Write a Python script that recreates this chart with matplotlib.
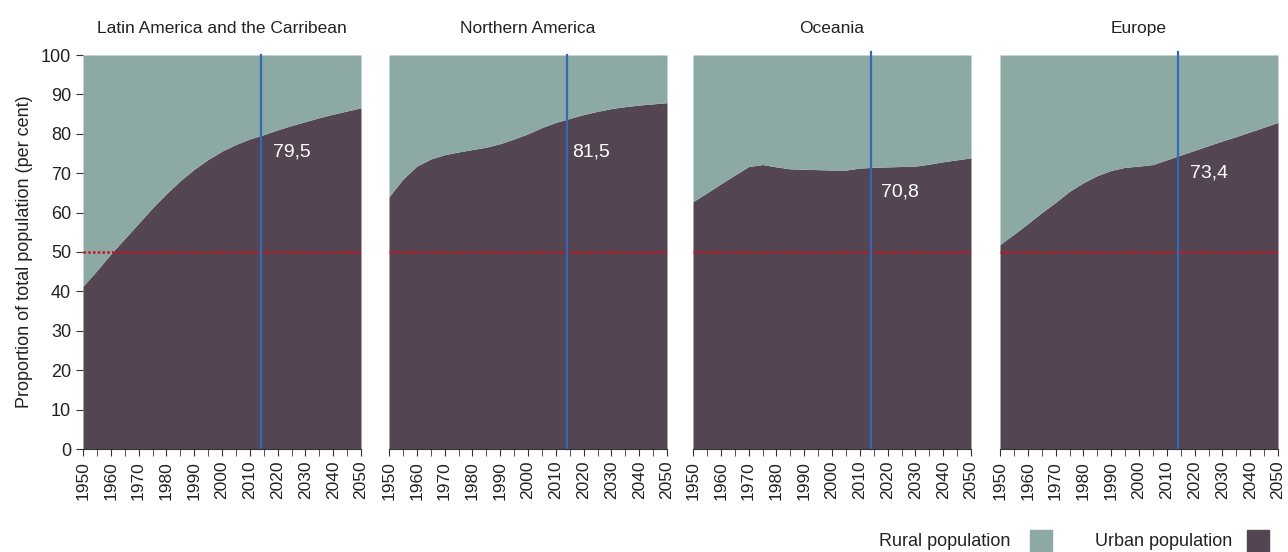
import matplotlib.pyplot as plt
from matplotlib.patches import Rectangle

plt.rcParams['font.family'] = ['Liberation Sans', 'DejaVu Sans']

anos = [1950, 1955, 1960, 1965, 1970, 1975, 1980, 1985, 1990, 1995, 2000,
        2005, 2010, 2015, 2020, 2025, 2030, 2035, 2040, 2045, 2050]

regioes = ['Latin America and the Carribean', 'Northern America', 'Oceania', 'Europe']

urbana_latam = [41.3, 45.3, 49.5, 53.4, 57.3, 61.2, 64.8, 68.1, 71.0, 73.5, 75.6,
                77.3, 78.7, 79.8, 81.0, 82.1, 83.1, 84.1, 85.0, 85.8, 86.6]
urbana_nam = [64.0, 68.5, 71.8, 73.6, 74.7, 75.4, 76.0, 76.6, 77.5, 78.7, 80.0,
              81.6, 82.9, 83.9, 84.9, 85.7, 86.4, 86.9, 87.3, 87.6, 87.9]
urbana_oce = [62.8, 65.0, 67.3, 69.5, 71.7, 72.2, 71.6, 71.1, 71.0, 70.9, 70.8,
              70.8, 71.3, 71.5, 71.6, 71.7, 71.8, 72.3, 72.9, 73.4, 73.9]
urbana_eur = [51.9, 54.5, 57.2, 60.0, 62.6, 65.4, 67.6, 69.4, 70.7, 71.5, 71.8,
              72.2, 73.4, 74.6, 75.8, 77.0, 78.2, 79.3, 80.5, 81.7, 82.9]

rotulos = ['79,5', '81,5', '70,8', '73,4']
ano_atual = 2014

cor_rural = '#8caaa3'
cor_urbana = '#534552'
cor_azul = '#3568b8'
cor_vermelha = '#d0101c'

urbanas = [urbana_latam, urbana_nam, urbana_oce, urbana_eur]
rotulo_y = [75.4, 75.4, 65.2, 70.0]
rotulo_x = [2018.5, 2016, 2017.5, 2018.5]
esquerdas = [83, 389, 693, 1000]

fig = plt.figure(figsize=(12.88, 5.52), dpi=100)

for i in range(4):
    ax = fig.add_axes([esquerdas[i] / 1288, 1 - 449 / 552, 278 / 1288, 394 / 552])
    ax.fill_between(anos, 0, urbanas[i], color=cor_urbana, lw=0)
    ax.fill_between(anos, urbanas[i], 100, color=cor_rural, lw=0)
    ax.axhline(50, color=cor_vermelha, ls=(0, (1, 0.9)), lw=1.8)
    alto = 1.008 if i >= 2 else 1
    ax.axvline(ano_atual, ymin=0, ymax=alto, color=cor_azul, lw=1.6, clip_on=False)
    ax.text(rotulo_x[i], rotulo_y[i], rotulos[i], color='white', fontsize=14,
            va='center', ha='left')
    ax.set_xlim(1950, 2050)
    ax.set_ylim(0, 100)
    ax.set_title(regioes[i], fontsize=12.5, color='#222222', pad=16)
    for s in ['top', 'right', 'left']:
        ax.spines[s].set_visible(False)
    ax.spines['bottom'].set_color('#333333')
    ax.set_xticks(range(1950, 2051, 10))
    ax.set_xticks(range(1955, 2050, 10), minor=True)
    ax.tick_params(axis='x', which='both', length=5, color='#333333',
                   labelsize=12.5, labelrotation=90, labelcolor='#222222')
    if i == 0:
        ax.set_yticks(range(0, 101, 10))
        ax.tick_params(axis='y', length=5, color='#333333', labelsize=13,
                       labelcolor='#222222')
        ax.set_ylabel('Proportion of total population (per cent)', fontsize=13,
                      color='#222222', labelpad=6)
    else:
        ax.set_yticks([])

# legenda
fig.text(1010 / 1288, 1 - 541 / 552, 'Rural population', fontsize=13,
         ha='right', va='center', color='#222222')
fig.patches.append(Rectangle((1030 / 1288, 1 - 552 / 552), 22 / 1288, 22 / 552,
                             transform=fig.transFigure, color=cor_rural))
fig.text(1232 / 1288, 1 - 541 / 552, 'Urban population', fontsize=13,
         ha='right', va='center', color='#222222')
fig.patches.append(Rectangle((1247 / 1288, 1 - 552 / 552), 22 / 1288, 22 / 552,
                             transform=fig.transFigure, color=cor_urbana))

plt.savefig('out.png')
